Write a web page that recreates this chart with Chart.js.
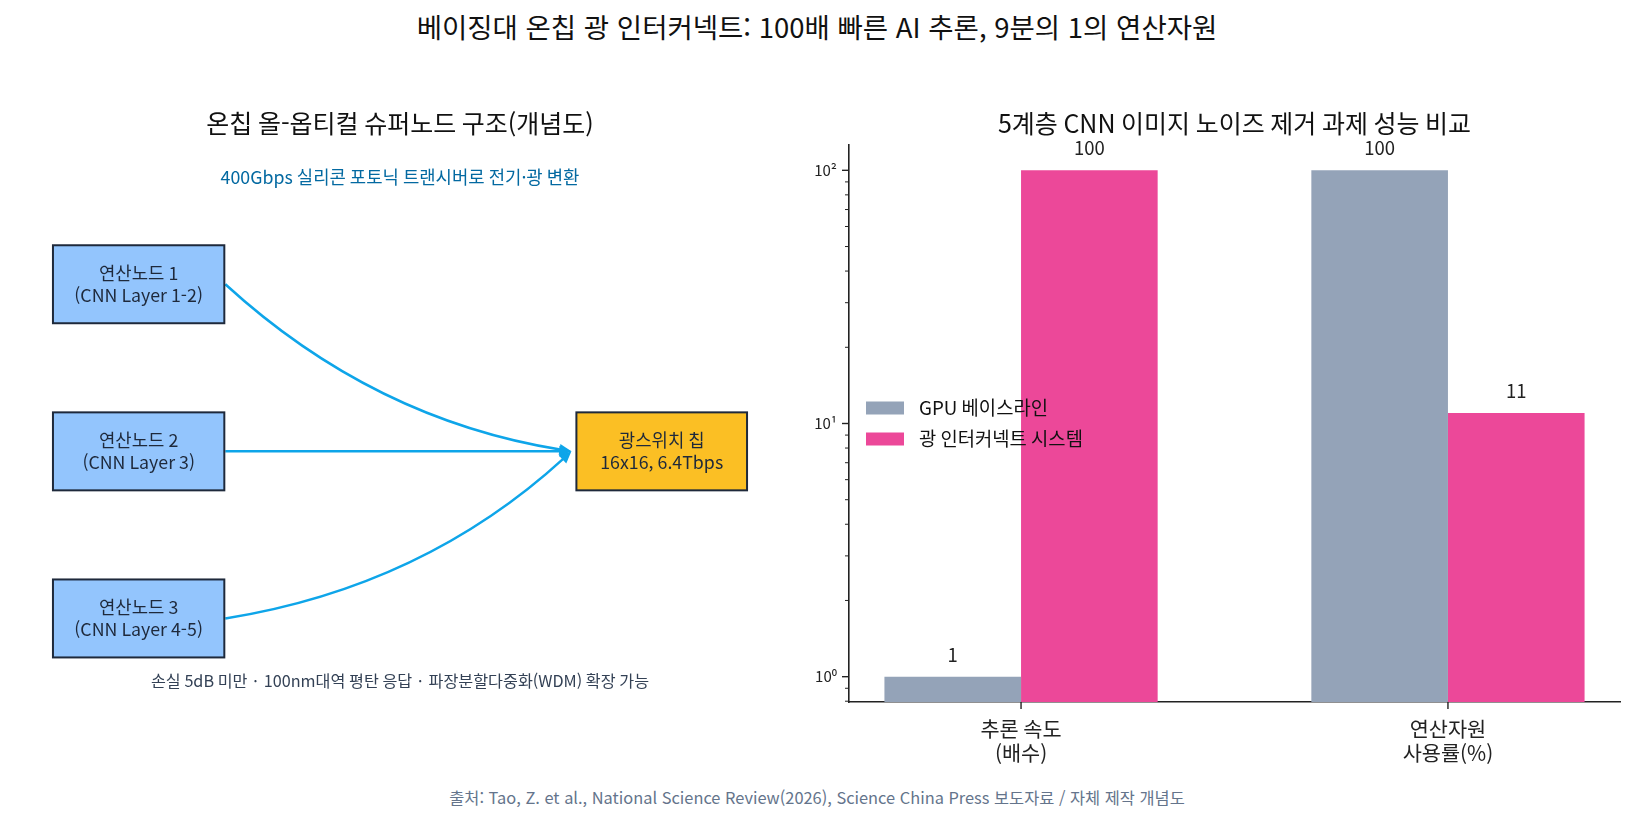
<!DOCTYPE html>
<html lang="ko">
<head>
<meta charset="utf-8">
<script src="https://cdn.jsdelivr.net/npm/chart.js@4.4.1/dist/chart.umd.min.js"></script>
<style>
  html, body { margin: 0; padding: 0; background: #fff; }
  body { width: 1634px; height: 821px; position: relative; overflow: hidden;
         font-family: 'Noto Sans CJK KR', 'Noto Sans', sans-serif; }
  #main-title { position: absolute; left: 0; width: 1634px; top: 7px; text-align: center;
                font-size: 27.5px; line-height: 38px; color: #111; }
  #source { position: absolute; left: 0; width: 1634px; top: 786px; text-align: center;
            font-size: 16.4px; line-height: 22px; color: #64748b; }
  #left-wrap { position: absolute; left: 0; top: 100px; width: 800px; height: 680px; }
  #right-wrap { position: absolute; left: 760px; top: 100px; width: 874px; height: 680px; }
</style>
</head>
<body>
<div id="main-title">베이징대 온칩 광 인터커넥트: 100배 빠른 AI 추론, 9분의 1의 연산자원</div>
<div id="left-wrap"><canvas id="diagram"></canvas></div>
<div id="right-wrap"><canvas id="perf"></canvas></div>
<div id="source">출처: Tao, Z. et al., National Science Review(2026), Science China Press 보도자료 / 자체 제작 개념도</div>

<script>
// ---- data ----
var categories = [['추론 속도', '(배수)'], ['연산자원', '사용률(%)']];
var seriesNames = ['GPU 베이스라인', '광 인터커넥트 시스템'];
var gpuValues = [1, 100];
var opticalValues = [100, 11];
var yMajorTicks = [1, 10, 100];
var yTickLabels = ['10⁰', '10¹', '10²'];

var nodeLabels = [['연산노드 1', '(CNN Layer 1-2)'], ['연산노드 2', '(CNN Layer 3)'], ['연산노드 3', '(CNN Layer 4-5)']];
var switchLabel = ['광스위치 칩', '16x16, 6.4Tbps'];
var topNote = '400Gbps 실리콘 포토닉 트랜시버로 전기·광 변환';
var bottomNote = '손실 5dB 미만 · 100nm대역 평탄 응답 · 파장분할다중화(WDM) 확장 가능';

// ---- diagram layout (axis units 0..10) ----
var nodeBox = { x0: 0.18, x1: 2.56, h: 1.4 };
var nodeCenters = [7.5, 4.5, 1.5];
var switchBox = { x0: 7.45, x1: 9.82, yc: 4.5, h: 1.4 };
var arcRad = [0.15, 0, 0.15];

var FONT = "'Noto Sans CJK KR', 'Noto Sans', sans-serif";
Chart.defaults.font.family = FONT;
Chart.defaults.color = '#222';

var GPU_COLOR = '#94a3b8';
var OPT_COLOR = '#ec4899';
var ARROW = '#0ea5e9';

// ---------- left: concept diagram ----------
var diagramPlugin = {
  id: 'diagram',
  afterDraw: function (chart) {
    var ctx = chart.ctx;
    var xs = chart.scales.x, ys = chart.scales.y;
    var px = function (v) { return xs.getPixelForValue(v); };
    var py = function (v) { return ys.getPixelForValue(v); };

    function box(x0, x1, yc, h, fill, lines) {
      var l = px(x0), r = px(x1), t = py(yc + h / 2), b = py(yc - h / 2);
      ctx.fillStyle = fill;
      ctx.fillRect(l, t, r - l, b - t);
      ctx.lineWidth = 2;
      ctx.strokeStyle = '#1e293b';
      ctx.strokeRect(l, t, r - l, b - t);
      ctx.fillStyle = '#1e293b';
      ctx.font = '17.8px ' + FONT;
      ctx.textAlign = 'center';
      ctx.textBaseline = 'middle';
      var cx = (l + r) / 2, cy = (t + b) / 2;
      ctx.fillText(lines[0], cx, cy - 11);
      ctx.fillText(lines[1], cx, cy + 11);
    }

    // arrows
    nodeCenters.forEach(function (yc, i) {
      var sx = px(nodeBox.x1) + 1, sy = py(yc);
      var ex = px(switchBox.x0) - 5, ey = py(switchBox.yc);
      var dx = ex - sx, dy = ey - sy;
      var cx = (sx + ex) / 2 - arcRad[i] * dy;
      var cy = (sy + ey) / 2 + arcRad[i] * dx;
      var tx = ex - cx, ty = ey - cy;
      var tl = Math.sqrt(tx * tx + ty * ty);
      tx /= tl; ty /= tl;
      var headLen = 12, headW = 5.5;
      var bx = ex - tx * headLen, by = ey - ty * headLen;
      ctx.save();
      ctx.strokeStyle = ARROW;
      ctx.fillStyle = ARROW;
      ctx.lineWidth = 2.5;
      ctx.beginPath();
      ctx.moveTo(sx, sy);
      ctx.quadraticCurveTo(cx, cy, bx + tx * 2, by + ty * 2);
      ctx.stroke();
      ctx.beginPath();
      ctx.moveTo(ex, ey);
      ctx.lineTo(bx - ty * headW, by + tx * headW);
      ctx.lineTo(bx + ty * headW, by - tx * headW);
      ctx.closePath();
      ctx.fill();
      ctx.restore();
    });

    nodeCenters.forEach(function (yc, i) {
      box(nodeBox.x0, nodeBox.x1, yc, nodeBox.h, '#93c5fd', nodeLabels[i]);
    });
    box(switchBox.x0, switchBox.x1, switchBox.yc, switchBox.h, '#fbbf24', switchLabel);

    ctx.save();
    ctx.textAlign = 'center';
    ctx.textBaseline = 'middle';
    ctx.font = '17.8px ' + FONT;
    ctx.fillStyle = '#0369a1';
    ctx.fillText(topNote, px(5), py(9.43));
    ctx.font = '16.2px ' + FONT;
    ctx.fillStyle = '#334155';
    ctx.fillText(bottomNote, px(5), py(0.38));
    ctx.restore();
  }
};

new Chart(document.getElementById('diagram'), {
  type: 'scatter',
  data: { datasets: [] },
  options: {
    responsive: true,
    maintainAspectRatio: false,
    animation: false,
    layout: { padding: { left: 40, right: 40, top: 0, bottom: 78 } },
    plugins: {
      legend: { display: false },
      tooltip: { enabled: false },
      title: {
        display: true,
        fullSize: false,
        text: '온칩 올-옵티컬 슈퍼노드 구조(개념도)',
        color: '#111',
        font: { size: 25, weight: 'normal', lineHeight: 1.2 },
        padding: { top: 8, bottom: 7 }
      }
    },
    scales: {
      x: { type: 'linear', min: 0, max: 10, display: false },
      y: { type: 'linear', min: 0, max: 10, display: false }
    }
  },
  plugins: [diagramPlugin]
});

// ---------- right: log bar chart ----------
var minorTicks = [];
[0.1, 1, 10].forEach(function (d) {
  for (var k = 2; k <= 9; k++) minorTicks.push(+(k * d).toFixed(6));
});
var allYTicks = yMajorTicks.concat(minorTicks).sort(function (a, b) { return a - b; });

var axisTickPlugin = {
  id: 'axisTicks',
  afterDraw: function (chart) {
    var ctx = chart.ctx, area = chart.chartArea;
    var ys = chart.scales.y, xs = chart.scales.x;
    ctx.save();
    ctx.strokeStyle = '#222';
    ys.ticks.forEach(function (t) {
      var y = ys.getPixelForValue(t.value);
      var major = yMajorTicks.indexOf(t.value) >= 0;
      ctx.lineWidth = major ? 1.4 : 1;
      ctx.beginPath();
      ctx.moveTo(area.left, y);
      ctx.lineTo(area.left - (major ? 7 : 4), y);
      ctx.stroke();
    });
    xs.ticks.forEach(function (t) {
      var x = xs.getPixelForValue(t.value);
      ctx.lineWidth = 1.4;
      ctx.beginPath();
      ctx.moveTo(x, area.bottom);
      ctx.lineTo(x, area.bottom + 7);
      ctx.stroke();
    });
    ctx.restore();
  }
};

var valueLabelPlugin = {
  id: 'valueLabels',
  afterDatasetsDraw: function (chart) {
    var ctx = chart.ctx;
    ctx.save();
    ctx.font = '18.5px ' + FONT;
    ctx.fillStyle = '#222';
    ctx.textAlign = 'center';
    ctx.textBaseline = 'middle';
    chart.data.datasets.forEach(function (ds, di) {
      chart.getDatasetMeta(di).data.forEach(function (bar, i) {
        ctx.fillText(String(ds.data[i].y), bar.x, bar.y - 22);
      });
    });
    ctx.restore();
  }
};

var innerLegendPlugin = {
  id: 'innerLegend',
  afterDatasetsDraw: function (chart) {
    var ctx = chart.ctx, area = chart.chartArea;
    var cy = (area.top + area.bottom) / 2;
    var rowH = 31;
    ctx.save();
    ctx.font = '18.8px ' + FONT;
    ctx.textAlign = 'left';
    ctx.textBaseline = 'middle';
    chart.data.datasets.forEach(function (ds, i) {
      var y = cy + (i - (chart.data.datasets.length - 1) / 2) * rowH;
      ctx.fillStyle = ds.backgroundColor;
      ctx.fillRect(area.left + 17, y - 6.5, 38, 13);
      ctx.fillStyle = '#111';
      ctx.fillText(ds.label, area.left + 70, y);
    });
    ctx.restore();
  }
};

new Chart(document.getElementById('perf'), {
  type: 'bar',
  data: {
    datasets: [
      {
        label: seriesNames[0],
        data: gpuValues.map(function (v, i) { return { x: i, y: v }; }),
        backgroundColor: GPU_COLOR,
        borderWidth: 0
      },
      {
        label: seriesNames[1],
        data: opticalValues.map(function (v, i) { return { x: i, y: v }; }),
        backgroundColor: OPT_COLOR,
        borderWidth: 0
      }
    ]
  },
  options: {
    responsive: true,
    maintainAspectRatio: false,
    animation: false,
    categoryPercentage: 0.64,
    barPercentage: 1.0,
    layout: { padding: { left: 0, right: 14, top: 0, bottom: 0 } },
    plugins: {
      legend: { display: false },
      tooltip: { enabled: false },
      title: {
        display: true,
        fullSize: false,
        text: '5계층 CNN 이미지 노이즈 제거 과제 성능 비교',
        color: '#111',
        font: { size: 25, weight: 'normal', lineHeight: 1.2 },
        padding: { top: 8, bottom: 7 }
      }
    },
    scales: {
      x: {
        type: 'linear',
        min: -0.403,
        max: 1.403,
        offset: false,
        afterBuildTicks: function (scale) {
          scale.ticks = categories.map(function (c, i) { return { value: i }; });
        },
        afterFit: function (scale) { scale.height = 78; },
        ticks: {
          autoSkip: false,
          maxRotation: 0,
          padding: 15,
          color: '#222',
          font: { size: 20.8, lineHeight: 1.15 },
          callback: function (v) { return categories[v]; }
        },
        grid: { display: true, drawOnChartArea: false, drawTicks: false },
        border: { display: true, color: '#222', width: 1.6 }
      },
      y: {
        type: 'logarithmic',
        min: Math.pow(10, -0.1),
        max: Math.pow(10, 2.1),
        afterBuildTicks: function (scale) {
          scale.ticks = allYTicks
            .filter(function (v) { return v >= scale.min && v <= scale.max; })
            .map(function (v) { return { value: v }; });
        },
        afterFit: function (scale) { scale.width = 89; },
        ticks: {
          autoSkip: false,
          padding: 12,
          color: '#222',
          font: { size: 15 },
          callback: function (v) {
            var i = yMajorTicks.indexOf(v);
            return i >= 0 ? yTickLabels[i] : '';
          }
        },
        grid: { display: true, drawOnChartArea: false, drawTicks: false },
        border: { display: true, color: '#222', width: 1.6 }
      }
    }
  },
  plugins: [axisTickPlugin, valueLabelPlugin, innerLegendPlugin]
});
</script>
</body>
</html>
